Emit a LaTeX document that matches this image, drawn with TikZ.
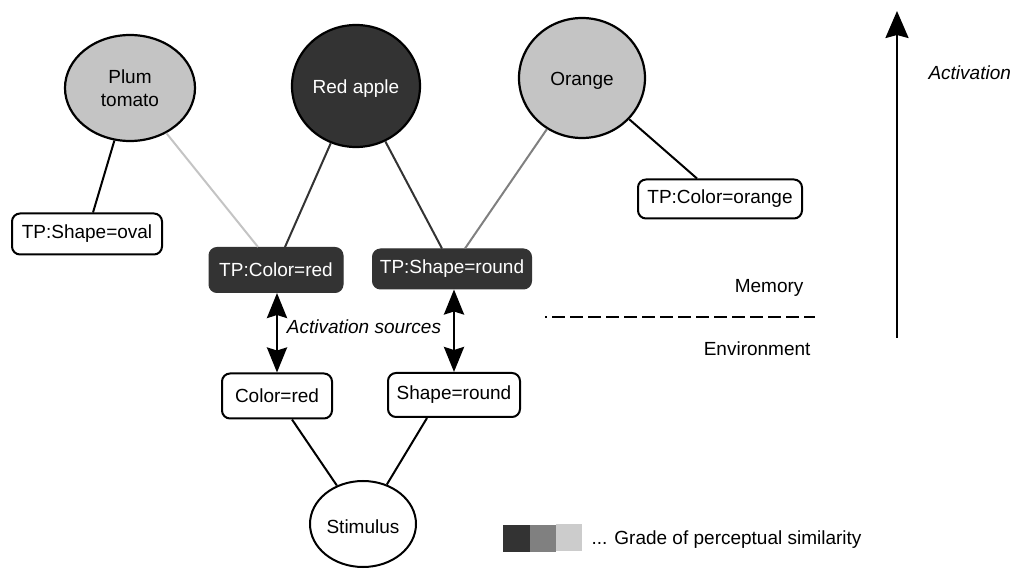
\documentclass[tikz,border=0pt]{standalone}
\usepackage{fontspec}
\setmainfont{Liberation Sans}
\usetikzlibrary{shapes.geometric,arrows.meta}
\definecolor{simhigh}{HTML}{333333}
\definecolor{simmid}{HTML}{808080}
\definecolor{simlow}{HTML}{C4C4C4}
\definecolor{legendlow}{HTML}{CCCCCC}
\begin{document}
\begin{tikzpicture}[x=1pt,y=-1pt,
  font=\fontsize{19}{23.5}\selectfont,
  concept/.style={ellipse,draw=black,line width=2.2pt,inner sep=0pt,align=center},
  lowtext/.style={text height=19.7pt,text depth=4pt},
  feature/.style={rectangle,rounded corners=8pt,draw=black,line width=2pt,fill=white,inner sep=0pt},
  tpdark/.style={rectangle,rounded corners=8pt,draw=simhigh,line width=1pt,fill=simhigh,text=white,inner sep=0pt},
  link/.style={line width=2pt},
  source/.style={line width=2.8pt,{Stealth[length=25pt,width=20pt,inset=3pt]}-{Stealth[length=25pt,width=20pt,inset=3pt]}}
]
\useasboundingbox (0,0) rectangle (1013,569);

% concepts in memory
\node[concept,fill=simlow,minimum width=130,minimum height=106] (plum) at (130,88) {Plum\\tomato};
\node[concept,lowtext,fill=simhigh,text=white,minimum width=128,minimum height=122] (apple) at (356,86) {Red apple};
\node[concept,lowtext,fill=simlow,minimum width=126,minimum height=120] (orange) at (582,78) {Orange};

% typical properties
\node[feature,minimum width=150,minimum height=41] (tso) at (87,234) {TP:Shape=oval};
\node[tpdark,minimum width=134,minimum height=45] (tcr) at (276,270) {TP:Color=red};
\node[tpdark,minimum width=159,minimum height=40] (tsr) at (452,269) {TP:Shape=round};
\node[feature,minimum width=164,minimum height=39] (tco) at (720,199) {TP:Color=orange};

% environment features and stimulus
\node[feature,minimum width=110,minimum height=45] (cr) at (277,396) {Color=red};
\node[feature,minimum width=132,minimum height=44] (sr) at (454,395) {Shape=round};
\node[ellipse,draw=black,line width=2pt,inner sep=0pt,text height=22pt,text depth=4pt,minimum width=106,minimum height=86] (stim) at (363,524) {Stimulus};

% concept--property links, shaded by similarity
\draw[link,black] (plum) -- ([xshift=6pt]tso.north);
\draw[link,simlow] (plum) -- ([xshift=-18pt]tcr.north);
\draw[link,simhigh] (apple) -- ([xshift=9pt]tcr.north);
\draw[link,simhigh] (apple) -- ([xshift=-10pt]tsr.north);
\draw[link,simmid] (orange) -- ([xshift=13pt]tsr.north);
\draw[link,black] (orange) -- ([xshift=-23pt]tco.north);

% stimulus links
\draw[link,black] ([xshift=15pt]cr.south) -- (stim);
\draw[link,black] ([xshift=-27pt]sr.south) -- (stim);

% activation sources
\draw[source] (cr.north |- tcr.south) -- (cr.north);
\draw[source] (sr.north |- tsr.south) -- (sr.north);
\node[font=\fontsize{19}{23.5}\selectfont\itshape] (srclabel) at (364,327) {Activation sources};

% memory / environment boundary
\coordinate (bl) at (545,317);
\coordinate (br) at (815,317);
\draw[line width=2.4pt,dash pattern=on 13pt off 5pt,dash phase=11pt] (bl) -- (br);
\node[anchor=east] (mem) at (807,288) {Memory};
\node[anchor=east] (env) at (814,349) {Environment};

% activation axis
\coordinate (abot) at (897,338);
\coordinate (atop) at (897,11);
\draw[line width=2.4pt,-{Stealth[length=27pt,width=23pt,inset=3pt]}] (abot) -- (atop);
\node[anchor=west,font=\fontsize{19}{23.5}\selectfont\itshape] (actlabel) at (925,73) {Activation};

% legend
\fill[simhigh] (503,525) rectangle (529.5,552);
\fill[simmid] (529.5,525) rectangle (556,552);
\fill[legendlow] (556,524) rectangle (582,551);
\node[anchor=west] (legend) at (588,540) {... Grade of perceptual similarity};
\end{tikzpicture}
\end{document}
